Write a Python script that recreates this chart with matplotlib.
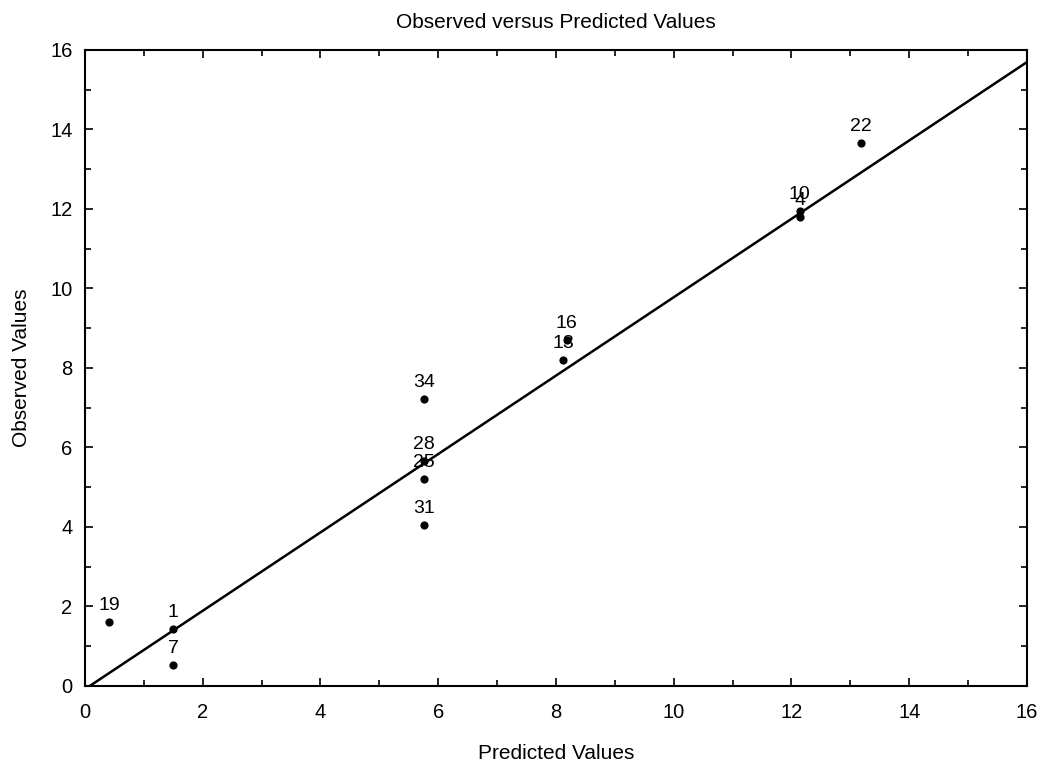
import numpy as np
import matplotlib.pyplot as plt

plt.rcParams['font.family'] = ['Liberation Sans', 'DejaVu Sans']

# case numbers with predicted / observed values
case_ids = ['19', '1', '7', '34', '28', '25', '31', '16', '13', '10', '4', '22']
predicted = [0.41, 1.50, 1.50, 5.76, 5.76, 5.76, 5.76, 8.18, 8.12, 12.14, 12.14, 13.18]
observed = [1.61, 1.43, 0.53, 7.22, 5.66, 5.20, 4.05, 8.70, 8.20, 11.95, 11.80, 13.66]

# fitted line endpoints
fit_intercept = -0.08
fit_slope = 0.986

fig = plt.figure(figsize=(10.44, 7.68), dpi=100)
ax = fig.add_axes([0.0814, 0.1068, 0.9023, 0.8281])

xs = np.array([0.08, 16.0])
ax.plot(xs, fit_intercept + fit_slope * xs, color='black', linewidth=1.8)
ax.scatter(predicted, observed, s=24, color='black', zorder=3)

for cid, px, oy in zip(case_ids, predicted, observed):
    ax.annotate(cid, (px, oy), xytext=(0, 6), textcoords='offset points',
                ha='center', va='bottom', fontsize=14)

ax.set_xlim(0, 16)
ax.set_ylim(0, 16)
ax.set_xticks(np.arange(0, 17, 2))
ax.set_yticks(np.arange(0, 17, 2))
ax.set_xticks(np.arange(1, 16, 2), minor=True)
ax.set_yticks(np.arange(1, 16, 2), minor=True)
ax.tick_params(which='both', direction='in', top=True, right=True,
               labelsize=14.5, width=1.2)
ax.tick_params(axis='x', which='major', pad=12)
ax.tick_params(axis='y', which='major', pad=9)
ax.tick_params(which='major', length=6)
ax.tick_params(which='minor', length=4)
for sp in ax.spines.values():
    sp.set_linewidth(1.5)

ax.set_title('Observed versus Predicted Values', fontsize=15, pad=16)
ax.set_xlabel('Predicted Values', fontsize=15, labelpad=16)
ax.set_ylabel('Observed Values', fontsize=15, labelpad=14)

fig.savefig('out.png', dpi=100)
